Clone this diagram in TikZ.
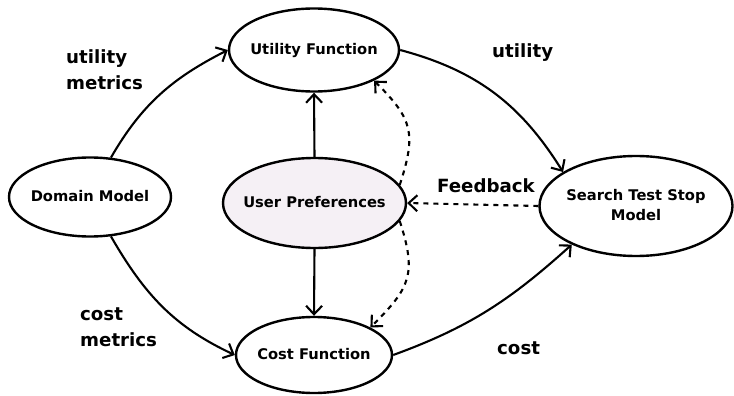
\documentclass[tikz,border=0pt]{standalone}
\usepackage{fontspec}
\setmainfont{DejaVu Sans}
\usetikzlibrary{arrows.meta,shapes.geometric}
\definecolor{prefill}{RGB}{245,240,245}
\newcommand{\ztxt}[1]{\makebox[0pt][c]{\begin{tabular}{@{}c@{}}#1\end{tabular}}}
\tikzset{
  x=1pt,y=-1pt,
  ell/.style={draw,ellipse,line width=2.4pt,inner sep=0pt,
    font=\fontsize{14.7}{21}\selectfont\bfseries},
  lbl/.style={font=\fontsize{18.2}{26}\selectfont\bfseries,align=left,inner sep=0pt},
  conn/.style={line width=2.1pt,-{Straight Barb[length=8.5pt,width=16pt]}},
  dconn/.style={conn,dash pattern=on 5pt off 5pt},
}
\begin{document}
\begin{tikzpicture}
\useasboundingbox (0,0) rectangle (734,396);
\node[ell,minimum width=170pt,minimum height=83pt] (uf) at (314,50) {\ztxt{Utility Function}};
\node[ell,minimum width=162pt,minimum height=79pt] (dm) at (90,197) {\ztxt{Domain Model}};
\node[ell,fill=prefill,minimum width=183pt,minimum height=90pt] (up) at (314.5,203) {\ztxt{User Preferences}};
\node[ell,minimum width=156pt,minimum height=76pt] (cf) at (314,355) {\ztxt{Cost Function}};
\node[ell,minimum width=193pt,minimum height=100pt] (st) at (636,206) {\ztxt{Search Test Stop\\[-1pt]Model}};

\draw[conn] (dm.62) to[out=60,in=207] (uf.west);
\draw[conn] (uf.east) to[out=-15,in=122] (st.155);
\draw[conn] (dm.-62) to[out=-60,in=155] (cf.west);
\draw[conn] (cf.east) to[out=20,in=222] (st.-149);
\draw[conn] (up.north) -- (uf.south);
\draw[conn] (up.south) -- (cf.north);
\draw[dconn] (up.12) to[out=72,in=-45,looseness=1.3] (uf.-27);
\draw[dconn] (up.-12) to[out=-72,in=45,looseness=1.3] (cf.26);
\draw[dconn] (st.west) -- (up.east);

\node[lbl,anchor=west] (l1) at (66,70) {utility\\metrics};
\node[lbl,anchor=west] (l2) at (492,53) {utility};
\node[lbl,anchor=west] (l3) at (80,327) {cost\\metrics};
\node[lbl,anchor=west] (l4) at (497,348) {cost};
\node[lbl,anchor=west] (l5) at (437,186) {Feedback};
\end{tikzpicture}
\end{document}
